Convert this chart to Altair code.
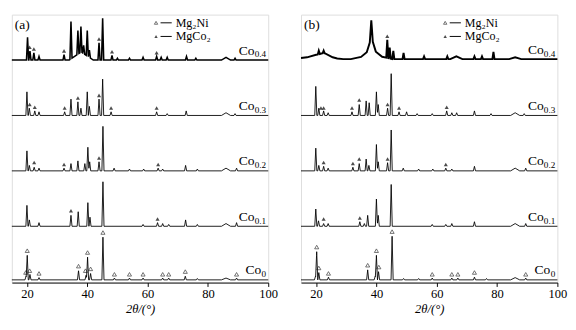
import altair as alt
import pandas as pd

SAMPLES = ["Co0", "Co0.1", "Co0.2", "Co0.3", "Co0.4"]
SUBS = ["0", "0.1", "0.2", "0.3", "0.4"]
OFFSETS_A = [3, 62, 123, 184, 245]
OFFSETS_B = [3, 62, 123, 184, 246]
X_TICKS = [20, 30, 40, 50, 60, 70, 80, 90, 100]

# peaks: (2theta, height, optional half width)
A_PEAKS = {
    "Co0": [(19.7, 4), (20.1, 27), (21.0, 6), (24.0, 2.5), (37.1, 10), (39.6, 5), (40.1, 25),
            (41.1, 7), (45.2, 47), (49.0, 2), (54.0, 2), (58.5, 2), (65.0, 2), (67.0, 2),
            (72.5, 4), (76.5, 1.5), (86.0, 2, 1.5), (89.5, 2)],
    "Co0.1": [(20.0, 23), (20.8, 7), (24.0, 4), (34.6, 12), (37.0, 16), (40.2, 26), (40.9, 10),
              (45.2, 49), (58.5, 2), (63.3, 4), (65.0, 3), (67.0, 2), (72.6, 7), (76.5, 2),
              (86.0, 3, 1.5), (89.5, 4)],
    "Co0.2": [(20.0, 22), (20.8, 6), (22.4, 4), (24.0, 3), (32.3, 3), (34.6, 8), (36.9, 11),
              (39.2, 8), (40.2, 26), (40.8, 10), (43.9, 10), (45.2, 49), (48.9, 3), (54.0, 2),
              (58.7, 2), (63.5, 3), (65.0, 2), (72.6, 6), (76.5, 2), (86.0, 3, 1.5), (89.5, 3)],
    "Co0.3": [(20.0, 26), (20.8, 8), (22.6, 5), (24.0, 4), (32.5, 4), (34.6, 18), (36.9, 15),
              (37.9, 8), (40.0, 26), (40.7, 10), (43.9, 18), (45.1, 40), (47.9, 4), (63.0, 4),
              (66.5, 2), (72.8, 5), (86.0, 3, 1.5), (89.0, 2)],
    "Co0.4": [(20.2, 25), (21.0, 10), (22.3, 8), (24.0, 4), (32.3, 6), (34.6, 41), (36.9, 26),
              (37.9, 28), (38.8, 9), (40.0, 28), (40.7, 8), (38.0, 9, 4.0), (43.9, 19), (45.1, 46),
              (48.2, 5), (50.0, 2), (54.0, 2), (58.5, 3), (63.0, 4), (64.5, 3), (66.5, 3),
              (72.9, 4), (76.0, 2), (86.0, 3, 1.5), (89.0, 2)],
}
B_PEAKS = {
    "Co0": [(19.8, 4), (20.2, 31), (20.9, 8), (24.1, 3), (37.1, 11), (39.6, 4), (40.0, 27),
            (40.7, 9), (45.2, 48), (49.0, 1.5), (54.0, 1.5), (58.5, 2), (65.0, 2), (67.0, 2),
            (72.5, 3), (76.5, 1.5), (86.0, 2.5, 1.5), (89.5, 2)],
    "Co0.1": [(19.9, 19), (20.8, 6), (22.5, 3), (24.0, 3), (34.5, 5), (36.0, 3), (37.1, 12),
              (40.0, 30), (40.6, 12), (44.9, 46), (58.5, 2), (63.0, 2), (65.0, 3), (72.5, 5),
              (86.0, 3, 1.5), (89.5, 3)],
    "Co0.2": [(19.9, 25), (20.9, 6), (22.5, 5), (24.0, 3), (32.2, 4), (34.3, 8), (36.6, 13),
              (37.5, 6), (40.0, 29), (40.6, 10), (43.7, 9), (44.9, 45), (48.9, 3), (54.0, 2),
              (58.7, 2), (63.0, 3), (65.0, 2), (72.5, 5), (86.0, 3, 1.5), (89.5, 3)],
    "Co0.3": [(19.9, 32), (20.9, 8), (22.5, 5), (24.0, 3), (31.9, 4), (34.3, 12), (36.6, 16),
              (37.6, 14), (40.0, 26), (40.6, 12), (43.7, 8), (44.9, 46), (47.5, 4), (50.0, 4),
              (53.5, 2), (58.5, 2), (63.3, 5), (65.0, 3), (66.6, 3), (72.5, 5), (78.0, 2),
              (86.0, 3, 1.5), (89.0, 2)],
    "Co0.4": [(20.0, 3, 9.0), (22.0, 3, 5.0), (23.0, 2, 2.5), (38.5, 5, 7.0), (38.4, 7, 3.5),
              (38.3, 12, 1.5), (38.3, 19, 0.5), (20.9, 4), (22.5, 3), (43.6, 20), (44.4, 12),
              (45.6, 9), (49.0, 7), (55.8, 3), (63.5, 3), (66.5, 3, 2.0), (72.5, 3), (75.0, 3),
              (78.8, 8), (86.0, 2, 2.0)],
}

# triangle markers (2theta, height above baseline)
A_OPEN = {"Co0": [(19.6, 6), (20.1, 30), (20.9, 8), (24.0, 5), (37.1, 13), (39.4, 8), (40.1, 28),
                  (41.1, 10), (45.2, 50), (49.0, 4), (54.0, 4), (58.5, 4), (65.0, 4), (67.0, 4),
                  (72.5, 7), (89.5, 4)]}
A_FILLED = {"Co0.1": [(34.6, 15), (63.3, 6)],
            "Co0.2": [(22.4, 7), (32.3, 5), (43.9, 12), (63.5, 5)],
            "Co0.3": [(20.9, 10), (22.6, 7), (32.5, 6), (36.9, 17), (43.9, 20), (47.9, 6), (63.0, 6)],
            "Co0.4": [(20.9, 12), (22.3, 10), (32.3, 8), (43.9, 21), (48.2, 7), (63.0, 6)]}
B_OPEN = {"Co0": [(20.2, 34), (20.9, 11), (24.1, 5), (37.1, 14), (40.0, 30), (40.8, 12), (45.2, 51),
                  (58.5, 4), (65.0, 4), (67.0, 4), (72.5, 6), (89.5, 4)]}
B_FILLED = {"Co0.1": [(22.5, 6), (34.5, 7)],
            "Co0.2": [(22.5, 7), (32.2, 6), (34.3, 11), (43.7, 11), (63.0, 5)],
            "Co0.3": [(21.6, 6), (22.5, 6), (31.9, 6), (34.3, 15), (43.7, 10), (47.5, 6), (63.3, 7)],
            "Co0.4": [(43.6, 23)]}

LEGEND_NAMES = ["Mg\u2082Ni", "MgCo\u2082"]
FONT = "Liberation Serif"


def profile(peaks, offset):
    xs = {15.0, 100.0}
    norm = []
    for p in peaks:
        pos, h = p[0], p[1]
        hw = p[2] if len(p) > 2 else 0.35
        norm.append((pos, h, hw))
        xs.update([pos - hw, pos, pos + hw])
    rows = []
    for x in sorted(xs):
        if x < 15 or x > 100:
            continue
        y = offset
        for pos, h, hw in norm:
            d = abs(x - pos)
            if d < hw:
                y += h * (1 - d / hw)
        rows.append((x, y))
    return rows


def panel(peaks, opens, filleds, offsets, letter, thick):
    line_rows, open_rows, fill_rows = [], [], []
    for s, off in zip(SAMPLES, offsets):
        for i, (x, y) in enumerate(profile(peaks[s], off)):
            line_rows.append({"s": s, "i": i, "x": x, "y": y})
        for x, h in opens.get(s, []):
            open_rows.append({"x": x, "y": off + h})
        for x, h in filleds.get(s, []):
            fill_rows.append({"x": x, "y": off + h})
    xsc = alt.Scale(domain=[15, 100], nice=False, zero=False)
    ysc = alt.Scale(domain=[0, 295], nice=False, zero=False)
    xax = alt.X("x:Q", scale=xsc, title="2θ/(°)",
                axis=alt.Axis(values=X_TICKS, grid=False, tickSize=4, labelFont=FONT, labelFontSize=13,
                              labelColor="black", domainColor="black", tickColor="black",
                              titleFont=FONT, titleFontSize=13, titleFontWeight="normal",
                              titleFontStyle="italic", titleColor="black", titlePadding=2,
                              labelPadding=2, labelFlush=False))
    yax = alt.Y("y:Q", scale=ysc, axis=None)
    lines = alt.Chart(pd.DataFrame(line_rows)).mark_line(color="black").encode(
        x=xax, y=yax, detail="s:N", order="i:Q",
        strokeWidth=alt.condition(alt.datum.s == "Co0.4", alt.value(thick), alt.value(0.9)))
    layers = [lines]
    if open_rows:
        layers.append(alt.Chart(pd.DataFrame(open_rows)).mark_point(
            shape="triangle-up", filled=False, size=18, color="black", strokeWidth=0.8, yOffset=-2
        ).encode(x="x:Q", y="y:Q"))
    if fill_rows:
        layers.append(alt.Chart(pd.DataFrame(fill_rows)).mark_point(
            shape="triangle-up", filled=True, size=18, color="black", yOffset=-2
        ).encode(x="x:Q", y="y:Q"))
    # sample labels
    for sub, off in zip(SUBS, offsets):
        wsub = len(sub.replace(".", "")) * 4.6 + sub.count(".") * 2.3
        d = pd.DataFrame([{"x": 99.3, "y": off + 6}])
        layers.append(alt.Chart(d).mark_text(text="Co", align="right", baseline="alphabetic",
                                              font=FONT, fontSize=14, dx=-wsub - 0.5, color="black")
                      .encode(x="x:Q", y="y:Q"))
        layers.append(alt.Chart(d).mark_text(text=sub, align="right", baseline="alphabetic",
                                              font=FONT, fontSize=9.5, dy=3, color="black")
                      .encode(x="x:Q", y="y:Q"))
    # panel letter
    layers.append(alt.Chart(pd.DataFrame([{"x": 16.0, "y": 283}])).mark_text(
        text=f"({letter})", align="left", baseline="middle", font=FONT, fontSize=14, color="black"
    ).encode(x="x:Q", y="y:Q"))
    # legend
    ly = [286, 271]
    leg_sym = pd.DataFrame([{"x": 62.8, "y": ly[0], "k": 0}, {"x": 62.8, "y": ly[1], "k": 1}])
    layers.append(alt.Chart(leg_sym[leg_sym.k == 0]).mark_point(
        shape="triangle-up", filled=False, size=12, color="black", strokeWidth=0.8
    ).encode(x="x:Q", y="y:Q"))
    layers.append(alt.Chart(leg_sym[leg_sym.k == 1]).mark_point(
        shape="triangle-up", filled=True, size=12, color="black"
    ).encode(x="x:Q", y="y:Q"))
    leg_line = pd.DataFrame([{"x": 64.3, "x2": 68.0, "y": ly[0]}, {"x": 64.3, "x2": 68.0, "y": ly[1]}])
    layers.append(alt.Chart(leg_line).mark_rule(color="black", strokeWidth=1).encode(
        x="x:Q", x2="x2:Q", y="y:Q"))
    leg_txt = pd.DataFrame([{"x": 69.3, "y": ly[0], "t": LEGEND_NAMES[0]},
                            {"x": 69.3, "y": ly[1], "t": LEGEND_NAMES[1]}])
    layers.append(alt.Chart(leg_txt).mark_text(align="left", baseline="middle", font=FONT,
                                               fontSize=12.5, color="black")
                  .encode(x="x:Q", y="y:Q", text="t:N"))
    return alt.layer(*layers).properties(width=266, height=278)


left = panel(A_PEAKS, A_OPEN, A_FILLED, OFFSETS_A, "a", 1.6)
right = panel(B_PEAKS, B_OPEN, B_FILLED, OFFSETS_B, "b", 2.0)

chart = alt.hconcat(left, right, spacing=18).configure_view(
    stroke="black", strokeWidth=1
).configure(background="white").properties(padding=0)

chart.save("out.html", embed_options={"renderer": "svg", "actions": False})
